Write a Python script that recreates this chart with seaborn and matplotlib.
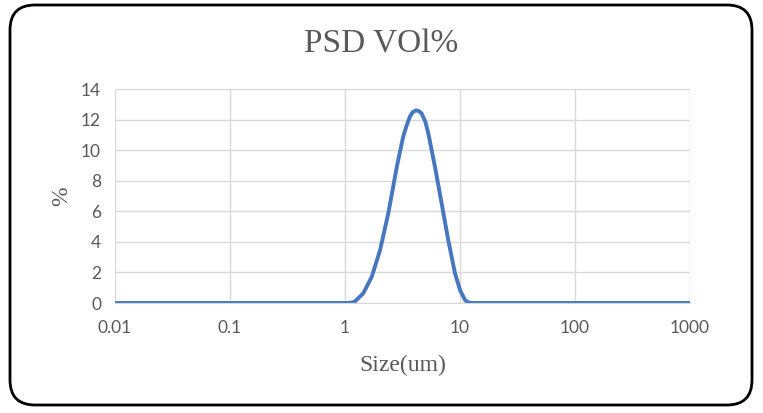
import numpy as np
import pandas as pd
import matplotlib
matplotlib.use('Agg')
import matplotlib.pyplot as plt
import seaborn as sns
from matplotlib.patches import FancyBboxPatch
from matplotlib.transforms import IdentityTransform

# 粒径 (um) 与体积百分比 (%)
sizes = [0.01, 0.1, 1.0, 1.05, 1.15, 1.22, 1.44, 1.71, 2.02, 2.38, 2.82, 3.21,
         3.45, 3.67, 3.9, 4.14, 4.4, 4.64, 5.0, 5.30, 6.06, 6.93, 7.91, 9.05,
         10.0, 11.05, 11.7, 12.7, 100, 1000]
vol_pct = [0, 0, 0, 0, 0.03, 0.1, 0.63, 1.72, 3.47, 5.87, 8.9, 10.9,
           11.65, 12.2, 12.5, 12.6, 12.55, 12.4, 11.85, 11.1, 8.9, 6.5, 4.1, 1.94,
           0.85, 0.2, 0.05, 0, 0, 0]
x_ticks = [0.01, 0.1, 1, 10, 100, 1000]
x_ticklabels = ['0.01', '0.1', '1', '10', '100', '1000']
y_ticks = [0, 2, 4, 6, 8, 10, 12, 14]

df = pd.DataFrame({'Size': sizes, 'Vol': vol_pct})

sns.set_style('white')
plt.rcParams['font.family'] = ['Lato', 'DejaVu Sans']

fig = plt.figure(figsize=(7.63, 4.13), dpi=100)
ax = fig.add_axes([115 / 763, 1 - 303 / 413, 575 / 763, 214 / 413])

sns.lineplot(data=df, x='Size', y='Vol', ax=ax, color='#4677BF', linewidth=2.8)

ax.set_xscale('log')
ax.set_xlim(0.01, 1000)
ax.set_ylim(0, 14)
ax.set_xticks(x_ticks)
ax.set_xticklabels(x_ticklabels)
ax.set_yticks(y_ticks)
ax.minorticks_off()
ax.grid(True, color='#d9d9d9', linewidth=1.0)
ax.set_axisbelow(True)
for s in ['top', 'right', 'left']:
    ax.spines[s].set_visible(False)
ax.spines['bottom'].set_color('#d9d9d9')
ax.tick_params(axis='both', length=0, labelsize=12.5, labelcolor='#595959')
ax.tick_params(axis='x', pad=12)
ax.tick_params(axis='y', pad=10)

serif = ['Liberation Serif', 'DejaVu Serif']
ax.set_xlabel('Size(um)', family=serif, fontsize=17, color='#595959', labelpad=14)
ax.set_ylabel('%', family=serif, fontsize=17, color='#595959', labelpad=6)
fig.text(0.5, 1 - 44 / 413, 'PSD VOl%', family=serif, fontsize=24,
         color='#595959', ha='center', va='center')

# 外框（圆角）
box = FancyBboxPatch((10, 8), 742, 400, boxstyle='round,pad=0,rounding_size=25',
                     transform=IdentityTransform(), fill=False,
                     edgecolor='black', linewidth=2)
fig.patches.append(box)

plt.savefig('out.png', dpi=100)
